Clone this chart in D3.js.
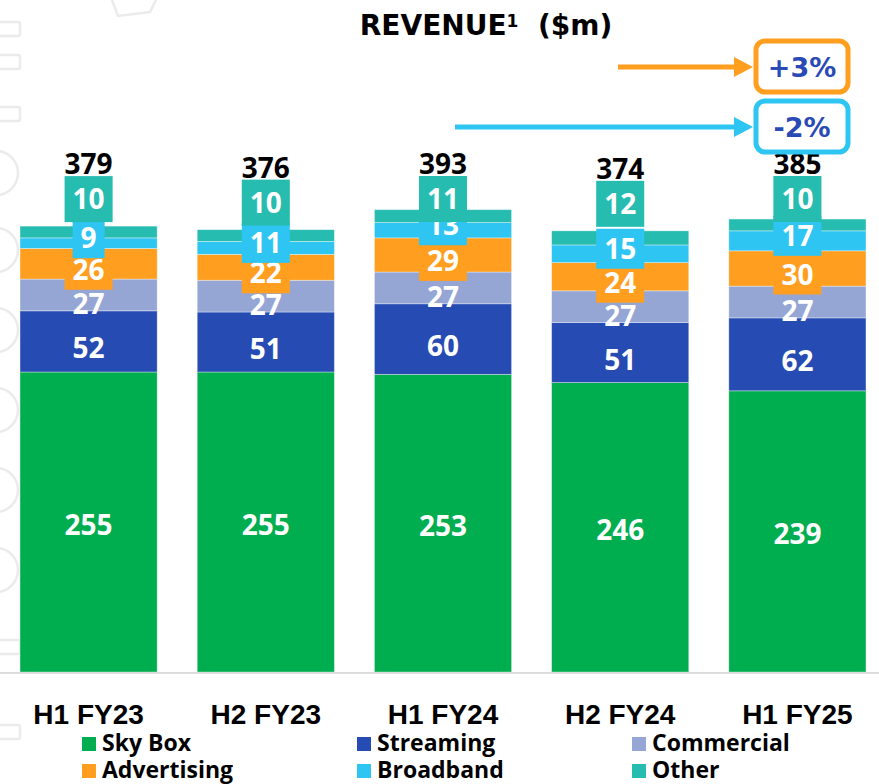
<!DOCTYPE html>
<html>
<head>
<meta charset="utf-8">
<script src="https://cdn.jsdelivr.net/npm/d3@7"></script>
<style>
  body { margin: 0; background: #fff; }
  svg { display: block; }
</style>
</head>
<body>
<svg id="chart" width="879" height="784"></svg>
<script>
// values
const periods = ["H1 FY23", "H2 FY23", "H1 FY24", "H2 FY24", "H1 FY25"];
const skyBox = [255, 255, 253, 246, 239];
const streaming = [52, 51, 60, 51, 62];
const commercial = [27, 27, 27, 27, 27];
const advertising = [26, 22, 29, 24, 30];
const broadband = [9, 11, 13, 15, 17];
const other = [10, 10, 11, 12, 10];
const totals = [379, 376, 393, 374, 385];

const seriesNames = ["Sky Box", "Streaming", "Commercial", "Advertising", "Broadband", "Other"];
const seriesValues = [skyBox, streaming, commercial, advertising, broadband, other];
const seriesColors = ["#00ad4f", "#264bb3", "#95a6d4", "#ff9e1f", "#2ec5f3", "#27bcb0"];

const changeLabels = ["+3%", "-2%"];
const changeColors = ["#ff9e1f", "#2ec5f3"];

const W = 879, H = 784;
const svg = d3.select("#chart");
const labelFont = "'Open Sans', sans-serif";

// faint watermark at left edge
const wm = svg.append("g").attr("fill", "none").attr("stroke", "#ebebeb").attr("stroke-width", 2.5);
[22, 55, 107, 640, 725].forEach(function (yy) {
  wm.append("rect").attr("x", -12).attr("y", yy).attr("width", 32).attr("height", 14).attr("rx", 2);
});
[173, 250, 330, 410, 490, 570].forEach(function (yy) {
  wm.append("circle").attr("cx", -4).attr("cy", yy).attr("r", 22);
});
wm.append("path").attr("d", "M112,0 L118,16 L150,12 L156,0");

const x = d3.scaleBand().domain(periods).range([0, 886]).paddingInner(0.226).paddingOuter(0.113);
const y = d3.scaleLinear().domain([0, 571.2]).range([672, 0]);

const table = periods.map(function (p, i) {
  const row = { period: p };
  seriesNames.forEach(function (s, k) { row[s] = seriesValues[k][i]; });
  return row;
});
const stacked = d3.stack().keys(seriesNames)(table);

// bars
svg.append("g").selectAll("g")
  .data(stacked)
  .join("g")
  .attr("fill", function (d, k) { return seriesColors[k]; })
  .selectAll("rect")
  .data(function (d) { return d; })
  .join("rect")
  .attr("x", function (d) { return x(d.data.period); })
  .attr("y", function (d) { return y(d[1]); })
  .attr("width", x.bandwidth())
  .attr("height", function (d) { return y(d[0]) - y(d[1]); })
  .attr("stroke", "rgba(255,255,255,0.45)")
  .attr("stroke-width", 0.8);

// baseline
svg.append("line")
  .attr("x1", 0).attr("x2", W)
  .attr("y1", 673).attr("y2", 673)
  .attr("stroke", "#dcdcdc").attr("stroke-width", 2);

// label layout (labels sit a little below segment centre, like the source)
const labelShift = { "Sky Box": 3, "Streaming": 7, "Commercial": 9, "Advertising": 6, "Broadband": -5 };
const boxHeight = { "Advertising": 40, "Broadband": 40, "Other": 46 };

function labelCenter(d, key, i) {
  if (key === "Other") {
    const top = y(d3.max(stacked, function (s) { return s[i][1]; }));
    return Math.max(top - 27, 199);
  }
  return (y(d[0]) + y(d[1])) / 2 + labelShift[key];
}

const labelsG = svg.append("g");
seriesNames.forEach(function (key, k) {
  const g = labelsG.append("g");
  stacked[k].forEach(function (d, i) {
    const cx = x(d.data.period) + x.bandwidth() / 2;
    const cy = labelCenter(d, key, i);
    const t = g.append("text")
      .attr("x", cx).attr("y", cy).attr("dy", "0.36em")
      .attr("text-anchor", "middle")
      .attr("font-family", labelFont)
      .attr("font-weight", 700)
      .attr("font-size", 28)
      .attr("fill", "#fff")
      .text(seriesValues[k][i]);
    if (boxHeight[key]) {
      const w = t.node().getComputedTextLength() + 16;
      const bh = boxHeight[key];
      g.insert("rect", function () { return t.node(); })
        .attr("x", cx - w / 2).attr("y", cy - bh / 2)
        .attr("width", w).attr("height", bh)
        .attr("fill", seriesColors[k]);
    }
    if (key === "Other") {
      labelsG.append("text")
        .attr("x", cx).attr("y", cy - boxHeight.Other / 2 - 2)
        .attr("text-anchor", "middle")
        .attr("font-family", labelFont)
        .attr("font-weight", 700)
        .attr("font-size", 28)
        .attr("fill", "#000")
        .attr("class", "total")
        .text(totals[i]);
    }
  });
});
labelsG.selectAll("text.total").raise();

// category axis
svg.append("g")
  .selectAll("text")
  .data(periods)
  .join("text")
  .attr("x", function (d) { return x(d) + x.bandwidth() / 2; })
  .attr("y", 724)
  .attr("text-anchor", "middle")
  .attr("font-family", "'Liberation Sans', Arial, sans-serif")
  .attr("font-weight", 700)
  .attr("font-size", 28)
  .attr("fill", "#000")
  .text(function (d) { return d; });

// legend
const legendCols = [82, 357, 632];
const legendRows = [737, 764];
const legend = svg.append("g")
  .selectAll("g")
  .data(seriesNames)
  .join("g")
  .attr("transform", function (d, i) {
    return "translate(" + legendCols[i % 3] + "," + legendRows[Math.floor(i / 3)] + ")";
  });
legend.append("rect")
  .attr("width", 14).attr("height", 14)
  .attr("fill", function (d, i) { return seriesColors[i]; });
legend.append("text")
  .attr("x", 20).attr("y", 14)
  .attr("font-family", labelFont)
  .attr("font-weight", 700)
  .attr("font-size", 23)
  .attr("fill", "#000")
  .text(function (d) { return d; });

// title
const title = svg.append("text")
  .attr("x", 486).attr("y", 35)
  .attr("text-anchor", "middle")
  .attr("font-family", "'DejaVu Sans', sans-serif")
  .attr("font-weight", 700)
  .attr("font-size", 28)
  .attr("fill", "#000");
title.append("tspan").text("REVENUE");
title.append("tspan").attr("font-size", 17).attr("dy", -8).text("1");
title.append("tspan").attr("dy", 8).text("\u00a0 ($m)");

// change call-outs
const calloutY = [67, 127];
const calloutStart = [618, 455];
const callouts = svg.append("g")
  .selectAll("g")
  .data(changeLabels)
  .join("g");
callouts.append("line")
  .attr("x1", function (d, i) { return calloutStart[i]; })
  .attr("x2", 738)
  .attr("y1", function (d, i) { return calloutY[i]; })
  .attr("y2", function (d, i) { return calloutY[i]; })
  .attr("stroke", function (d, i) { return changeColors[i]; })
  .attr("stroke-width", 5);
callouts.append("path")
  .attr("d", function (d, i) {
    const cy = calloutY[i];
    return "M734," + (cy - 10) + " L753," + cy + " L734," + (cy + 10) + " Z";
  })
  .attr("fill", function (d, i) { return changeColors[i]; });
callouts.append("rect")
  .attr("x", 756).attr("width", 92)
  .attr("y", function (d, i) { return calloutY[i] - 26; })
  .attr("height", 51)
  .attr("rx", 9)
  .attr("fill", "#fff")
  .attr("stroke", function (d, i) { return changeColors[i]; })
  .attr("stroke-width", 5);
callouts.append("text")
  .attr("x", 802)
  .attr("y", function (d, i) { return calloutY[i] + 10; })
  .attr("text-anchor", "middle")
  .attr("font-family", "'DejaVu Sans', sans-serif")
  .attr("font-weight", 700)
  .attr("font-size", 27)
  .attr("fill", "#2a4ab5")
  .text(function (d) { return d; });
</script>
</body>
</html>
